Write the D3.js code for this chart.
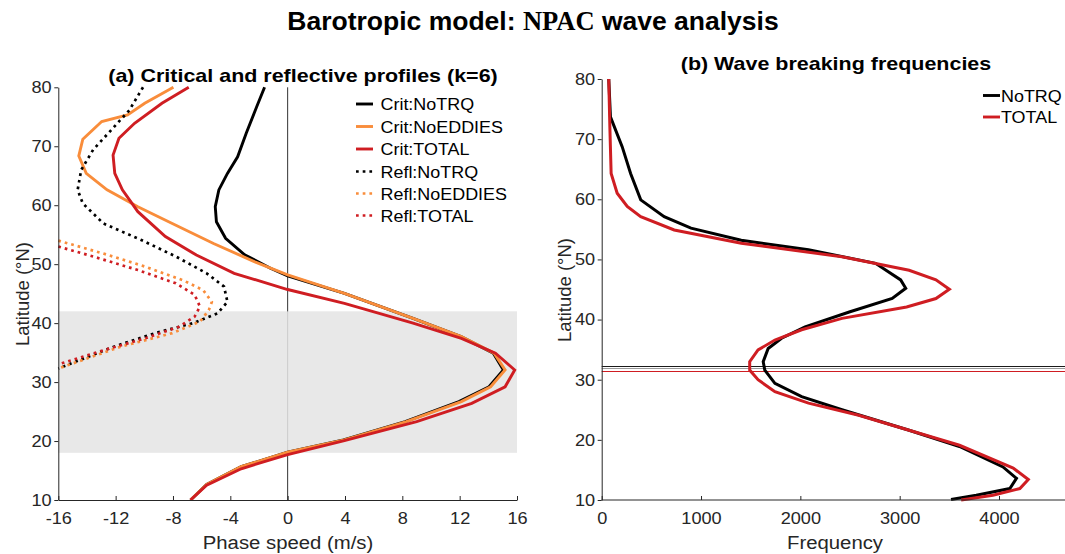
<!DOCTYPE html>
<html><head><meta charset="utf-8">
<script src="https://cdn.jsdelivr.net/npm/d3@7"></script>
<style>html,body{margin:0;padding:0;background:#fff;}svg{display:block;}</style>
</head><body>
<svg id="c" width="1065" height="554"></svg>
<script>
// ---------------- data ----------------
// Panel (a): critical & reflective profiles, phase speed (m/s) vs latitude
const critNoTRQLat = [80,76.7,72.2,68.2,65.4,62.6,59.75,57.2,54.4,51.6,49.3,48,45.05,40.8,37.7,34.9,32.05,29.2,26.7,23.3,20.2,18.1,15.65,12.66,10];
const critNoTRQ    = [-1.61,-2.16,-2.89,-3.49,-4.2,-4.8,-5.05,-4.97,-4.33,-3.0,-1.2,0,3.96,8.75,12.1,14.35,15.05,14.05,11.95,8.2,3.9,0,-3.24,-5.65,-6.77];
const critNoEDDIESLat = [80,77.3,75.3,74.2,71.2,68.35,65.4,62.6,59.75,56.9,53.5,50.4,48.2,45.05,40.8,37.7,34.9,32.05,29.2,26.7,23.3,20.2,18.1,15.65,12.66,10];
const critNoEDDIES    = [-7.97,-9.97,-11.17,-12.97,-14.29,-14.57,-14.05,-12.6,-10.45,-8.05,-5.17,-2.29,0,3.96,8.75,12.12,14.4,15.17,14.16,12.12,8.28,3.96,0,-3.24,-5.65,-6.77];
const critTOTALLat = [80,77.3,73.9,71.35,68.5,65.4,62.6,58.9,54.7,51.55,48.45,45.7,43.35,40.0,37.4,34.9,32.05,29.2,26.4,23.3,20.07,17.7,15.3,12.5,10];
const critTOTAL    = [-6.9,-8.77,-10.68,-11.77,-12.18,-12.06,-11.53,-10.45,-8.53,-6.37,-3.73,0,3.96,8.75,12.12,14.5,15.84,15.17,12.84,9.0,3.96,0,-3.24,-5.65,-6.77];
const reflNoTRQLat = [80,76.1,69.4,66,62.6,60.3,56.9,54.1,51.3,48.45,46.2,43.6,41.65,40.0,38.3,36.0,32.3];
const reflNoTRQ    = [-10.09,-11.05,-13.57,-14.4,-14.65,-14.29,-12.85,-10.21,-7.8,-5.65,-4.44,-4.2,-4.9,-6.6,-9.25,-12.13,-16];
const reflNoEDDIESLat = [54.0,51.8,49.6,47.3,45.6,43.6,42.2,40.25,38.3,36.0,32.3];
const reflNoEDDIES    = [-16,-12.85,-9.97,-7.33,-5.89,-5.29,-5.5,-6.12,-8.05,-11.65,-16];
const reflTOTALLat = [53.0,51.3,49.0,46.75,44.8,42.8,41.1,39.4,37.4,35.4,33.0];
const reflTOTAL    = [-16,-13.57,-10.45,-7.8,-6.49,-6.12,-6.49,-7.57,-9.97,-12.85,-16];
const shadeLat = [18, 42];

// Panel (b): wave breaking frequencies vs latitude
const freqNoTRQLat = [80,73.7,68.75,64.3,59.9,57.1,55.2,53.2,51.6,49.35,46.6,45.2,43.5,41.3,38.8,36.9,35.2,33.0,31.6,29.4,27.2,25.0,21.6,18.9,15.5,13.6,11.9,10.8,10.1];
const freqNoTRQ    = [71,88,206,291,393,629,899,1405,2082,2757,3010,3061,2925,2500,2048,1811,1676,1626,1642,1744,2013,2419,3095,3602,4040,4176,4109,3771,3517];
const freqTOTALLat = [80,72.1,64.3,61.0,58.8,57.1,54.9,52.7,50.45,48.2,46.6,45.05,43.5,42.1,40.2,38.3,36.6,34.95,33.0,31.6,30.0,28.0,26.1,24.1,21.6,19.1,15.3,13.4,11.9,10.8,10.0];
const freqTOTAL    = [71,82,95,156,257,393,730,1405,2419,3095,3365,3500,3365,3070,2419,2013,1744,1574,1490,1490,1574,1744,2082,2588,3095,3602,4143,4295,4210,3939,3619];
const hLineLats = [32.36, 32.03, 31.53];

// ticks & labels
const latTicks = [10,20,30,40,50,60,70,80];
const speedTicks = [-16,-12,-8,-4,0,4,8,12,16];
const freqTicks = [0,1000,2000,3000,4000];
const legendA = ["Crit:NoTRQ","Crit:NoEDDIES","Crit:TOTAL","Refl:NoTRQ","Refl:NoEDDIES","Refl:TOTAL"];
const legendB = ["NoTRQ","TOTAL"];

// ---------------- drawing ----------------
const BLACK="#000000", ORANGE="#f98d3b", RED="#cf1d22", AX="#262626";
const FONT="'Liberation Sans', Arial, Helvetica, sans-serif";
const SX=1.1;
const svg=d3.select("#c");
const fmt=d=>String(d).replace("\u2212","-");

const xA=d3.scaleLinear().domain([-16,16]).range([58.3,517]);
const yA=d3.scaleLinear().domain([10,80]).range([500,87.3]);
const xB=d3.scaleLinear().domain([0,4000]).range([601.7,999]);
const yB=d3.scaleLinear().domain([10,80]).range([500,79]);

function txt(g,x,y,s,o){
  o=o||{};
  const t=g.append("text").attr("transform",`translate(${x},${y}) ${o.rot?"rotate(-90)":""} scale(${o.sx||SX},1)`)
   .attr("font-family",o.family||FONT).attr("font-size",o.size||16).attr("font-weight",o.bold?"bold":"normal")
   .attr("text-anchor",o.anchor||"start").attr("fill",o.fill||AX).text(s);
  return t;
}

// ---- panel (a)
const gA=svg.append("g");
gA.append("line").attr("x1",xA(0)).attr("x2",xA(0)).attr("y1",yA(80)).attr("y2",yA(10)).attr("stroke","#333").attr("stroke-width",1);
gA.append("rect").attr("x",xA(-16)).attr("width",xA(16)-xA(-16)).attr("y",yA(shadeLat[1])).attr("height",yA(shadeLat[0])-yA(shadeLat[1]))
  .attr("fill","#e4e4e4").attr("opacity",0.86);

const lineA=d3.line().x(d=>xA(d[0])).y(d=>yA(d[1]));
const seriesA=[
  {v:critNoTRQ,lat:critNoTRQLat,c:BLACK,dot:false},
  {v:critNoEDDIES,lat:critNoEDDIESLat,c:ORANGE,dot:false},
  {v:critTOTAL,lat:critTOTALLat,c:RED,dot:false},
  {v:reflNoTRQ,lat:reflNoTRQLat,c:BLACK,dot:true},
  {v:reflNoEDDIES,lat:reflNoEDDIESLat,c:ORANGE,dot:true},
  {v:reflTOTAL,lat:reflTOTALLat,c:RED,dot:true}
];
seriesA.forEach(s=>{
  gA.append("path").datum(s.v.map((v,i)=>[v,s.lat[i]])).attr("d",lineA).attr("fill","none")
    .attr("stroke",s.c).attr("stroke-width",s.dot?2.7:2.9).attr("stroke-linejoin","miter")
    .attr("stroke-dasharray",s.dot?"2.7,4":null);
});

// axes (a)
const axXA=gA.append("g").attr("transform",`translate(0,${yA(10)})`)
  .call(d3.axisBottom(xA).tickValues(speedTicks).tickFormat(fmt).tickSize(-4).tickPadding(12).tickSizeOuter(0));
const axYA=gA.append("g").attr("transform",`translate(${xA(-16)},0)`)
  .call(d3.axisLeft(yA).tickValues(latTicks).tickFormat(fmt).tickSize(4).tickPadding(2).tickSizeOuter(0));
[axXA,axYA].forEach(a=>{
  a.select(".domain").attr("stroke",AX);
  a.selectAll(".tick line").attr("stroke",AX);
  a.selectAll(".tick text").attr("font-family",FONT).attr("font-size",16.5).attr("fill",AX)
   .attr("transform",`scale(${SX},1)`);
});
axXA.selectAll(".tick text").attr("dy","0.71em");

// legend (a)
const legRowsA=[104,126.5,149,171.5,193.5,215.5];
seriesA.forEach((s,i)=>{
  gA.append("line").attr("x1",356).attr("x2",373).attr("y1",legRowsA[i]).attr("y2",legRowsA[i])
    .attr("stroke",s.c).attr("stroke-width",s.dot?2.7:2.9).attr("stroke-dasharray",s.dot?"2.7,4":null);
  txt(gA,380.5,legRowsA[i]+6,legendA[i],{size:16.3,fill:"#000"});
});

// titles (a)
txt(gA,303,82,"(a) Critical and reflective profiles (k=6)",{size:19,bold:true,anchor:"middle",fill:"#000",sx:1.13});
txt(gA,288,549,"Phase speed (m/s)",{size:18,anchor:"middle",sx:1.13});
txt(gA,29,294,"Latitude (°N)",{size:18.5,anchor:"middle",rot:true,sx:1});

// ---- panel (b)
const gB=svg.append("g");
const hColors=["#1a1a1a","#9a9a9a",RED];
hLineLats.forEach((l,i)=>{
  const y=Math.round(yB(l))+0.5;
  gB.append("line").attr("x1",xB(0)).attr("x2",1065).attr("y1",y).attr("y2",y).attr("stroke",hColors[i]).attr("stroke-width",1);
});
const lineB=d3.line().x(d=>xB(d[0])).y(d=>yB(d[1]));
[{f:freqNoTRQ,lat:freqNoTRQLat,c:BLACK},{f:freqTOTAL,lat:freqTOTALLat,c:RED}].forEach(s=>{
  gB.append("path").datum(s.f.map((v,i)=>[v,s.lat[i]])).attr("d",lineB).attr("fill","none")
    .attr("stroke",s.c).attr("stroke-width",3).attr("stroke-linejoin","miter");
});
const axXB=gB.append("g").attr("transform",`translate(0,${yB(10)})`)
  .call(d3.axisBottom(xB).tickValues(freqTicks).tickFormat(fmt).tickSize(-4).tickPadding(12).tickSizeOuter(0));
axXB.select(".domain").attr("d",`M${xB(0)},0H1065`);
const axYB=gB.append("g").attr("transform",`translate(${xB(0)},0)`)
  .call(d3.axisLeft(yB).tickValues(latTicks).tickFormat(fmt).tickSize(4).tickPadding(2).tickSizeOuter(0));
[axXB,axYB].forEach(a=>{
  a.select(".domain").attr("stroke",AX);
  a.selectAll(".tick line").attr("stroke",AX);
  a.selectAll(".tick text").attr("font-family",FONT).attr("font-size",16.5).attr("fill",AX)
   .attr("transform",`scale(${SX},1)`);
});
axXB.selectAll(".tick text").attr("dy","0.71em");

// legend (b)
const legRowsB=[95.5,117];
[BLACK,RED].forEach((c,i)=>{
  gB.append("line").attr("x1",983).attr("x2",1000).attr("y1",legRowsB[i]).attr("y2",legRowsB[i]).attr("stroke",c).attr("stroke-width",2.9);
  txt(gB,1001,legRowsB[i]+6,legendB[i],{size:16.3,fill:"#000"});
});
txt(gB,836,70,"(b) Wave breaking frequencies",{size:19,bold:true,anchor:"middle",fill:"#000",sx:1.13});
txt(gB,835,549,"Frequency",{size:18,anchor:"middle",sx:1.13});
txt(gB,571,290,"Latitude (°N)",{size:18.5,anchor:"middle",rot:true,sx:1});

// ---- main title
const mt=svg.append("text").attr("x",533).attr("y",30).attr("text-anchor","middle")
  .attr("font-family",FONT).attr("font-size",26.5).attr("font-weight","bold").attr("fill","#000");
mt.append("tspan").text("Barotropic model: ");
mt.append("tspan").attr("font-family","'Liberation Serif', 'Times New Roman', serif").text("NPAC");
mt.append("tspan").text(" wave analysis");
</script>
</body></html>
